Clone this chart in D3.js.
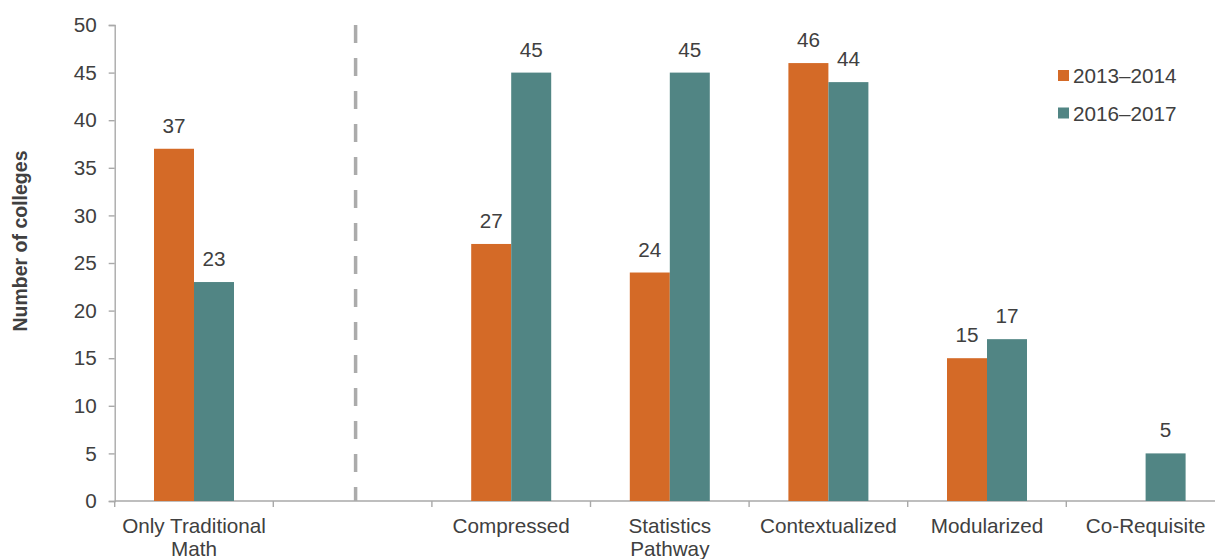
<!DOCTYPE html>
<html>
<head>
<meta charset="utf-8">
<script src="https://cdn.jsdelivr.net/npm/d3@7"></script>
<style>
  html, body { margin: 0; padding: 0; background: #fff; }
  svg { display: block; font-family: "Liberation Sans", Arial, sans-serif; }
</style>
</head>
<body>
<svg id="chart" width="1215" height="559"></svg>
<script>
// ---- data ----
const categories = ["Only Traditional Math", "", "Compressed", "Statistics Pathway", "Contextualized", "Modularized", "Co-Requisite"];
const categoryLines = [["Only Traditional", "Math"], [], ["Compressed"], ["Statistics", "Pathway"], ["Contextualized"], ["Modularized"], ["Co-Requisite"]];
const seriesNames = ["2013–2014", "2016–2017"];
const values2013 = [37, null, 27, 24, 46, 15, null];
const values2016 = [23, null, 45, 45, 44, 17, 5];
const yTicks = [0, 5, 10, 15, 20, 25, 30, 35, 40, 45, 50];
const colors = ["#D46A27", "#518584"];
const separatorCategory = "";

// ---- layout ----
const svg = d3.select("#chart");
const plotLeft = 114.7, bandW = 158.6, plotTop = 25, plotBottom = 501;
const textColor = "#404040", axisColor = "#A9A9A9";
const fs = 20.7;

const x = d3.scaleBand().domain(categories).range([plotLeft, plotLeft + bandW * categories.length]).padding(0);
const xs = d3.scaleBand().domain(seriesNames).range([x.bandwidth() / 2 - 40, x.bandwidth() / 2 + 40]).padding(0);
const y = d3.scaleLinear().domain([0, 50]).range([plotBottom, plotTop]);

// y axis
const yAxis = svg.append("g").attr("transform", `translate(${plotLeft},0)`)
  .call(d3.axisLeft(y).tickValues(yTicks).tickSize(6).tickPadding(12));
yAxis.select(".domain").attr("stroke", axisColor).attr("stroke-width", 1.4);
yAxis.selectAll(".tick line").attr("stroke", axisColor).attr("stroke-width", 1.4);
yAxis.selectAll(".tick text").attr("fill", textColor).style("font-size", fs + "px")
  .attr("font-family", "Liberation Sans, Arial, sans-serif");

// x axis line
svg.append("line").attr("x1", plotLeft).attr("x2", x.range()[1]).attr("y1", plotBottom).attr("y2", plotBottom)
  .attr("stroke", axisColor).attr("stroke-width", 1.4);
// x ticks at band boundaries
svg.selectAll(".xtick").data(categories).enter().append("line")
  .attr("x1", d => x(d)).attr("x2", d => x(d))
  .attr("y1", plotBottom).attr("y2", plotBottom + 6)
  .attr("stroke", axisColor).attr("stroke-width", 1.4);

// x labels
const xl = svg.selectAll(".xlabel").data(categories).enter().append("text")
  .attr("text-anchor", "middle").attr("fill", textColor).style("font-size", fs + "px")
  .attr("transform", d => `translate(${x(d) + x.bandwidth() / 2},533)`);
xl.each(function(d, i) {
  const t = d3.select(this);
  categoryLines[i].forEach((ln, j) => {
    t.append("tspan").attr("x", 0).attr("y", j * 23).text(ln);
  });
});

// separator dashed line
svg.append("line")
  .attr("x1", x(separatorCategory) + x.bandwidth() / 2 + 3).attr("x2", x(separatorCategory) + x.bandwidth() / 2 + 3)
  .attr("y1", y(50)).attr("y2", y(0))
  .attr("stroke", "#ABABAB").attr("stroke-width", 3.5).attr("stroke-dasharray", "18,15");

// bars
const series = [values2013, values2016];
series.forEach((vals, si) => {
  const g = svg.append("g");
  const data = categories.map((c, i) => ({ c, v: vals[i] })).filter(d => d.v != null);
  g.selectAll("rect").data(data).enter().append("rect")
    .attr("x", d => x(d.c) + xs(seriesNames[si]))
    .attr("width", xs.bandwidth())
    .attr("y", d => y(d.v))
    .attr("height", d => y(0) - y(d.v))
    .attr("fill", colors[si]);
  g.selectAll("text").data(data).enter().append("text")
    .attr("x", d => x(d.c) + xs(seriesNames[si]) + xs.bandwidth() / 2)
    .attr("y", d => y(d.v) - 16)
    .attr("text-anchor", "middle").attr("fill", textColor).style("font-size", fs + "px")
    .text(d => d.v);
});

// y title
svg.append("text")
  .attr("transform", `translate(27,${(150 + 332) / 2}) rotate(-90)`)
  .attr("text-anchor", "middle").attr("fill", textColor)
  .style("font-size", "19.5px").style("font-weight", "bold")
  .text("Number of colleges");

// legend
const legend = svg.append("g").attr("transform", "translate(1058,70)");
seriesNames.forEach((s, i) => {
  const lg = legend.append("g").attr("transform", `translate(0,${i * 37.5})`);
  lg.append("rect").attr("width", 11).attr("height", 11).attr("fill", colors[i]);
  lg.append("text").attr("x", 15).attr("y", 13).attr("fill", textColor).style("font-size", fs + "px").text(s);
});
</script>
</body>
</html>
